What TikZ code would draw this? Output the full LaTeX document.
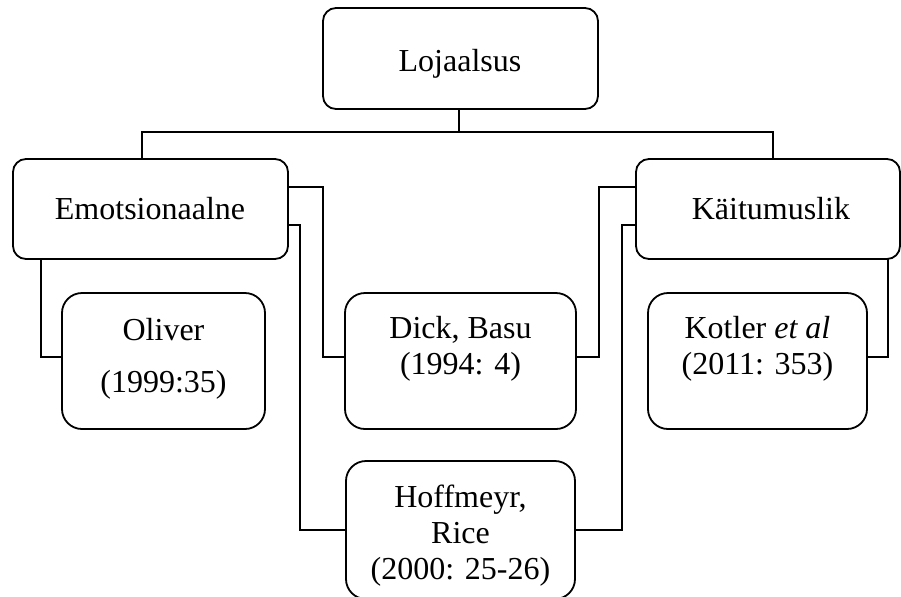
\documentclass[tikz,border=0pt]{standalone}
\usepackage{fontspec}
\setmainfont{Liberation Serif}
\begin{document}
\begin{tikzpicture}[x=0.5pt,y=-0.5pt,
  box/.style={draw,line width=0.9pt,inner sep=0pt,outer sep=0pt},
  topbox/.style={box,rounded corners=6.5pt},
  refbox/.style={box,rounded corners=10pt},
  txt/.style={anchor=base,inner sep=0pt,font=\fontsize{16}{18}\selectfont},
  link/.style={line width=0.9pt}]
\useasboundingbox (0,0) rectangle (901,596);
\begin{scope}
\clip (0,0) rectangle (901,596);
% boxes
\node[topbox,minimum width=137.5pt,minimum height=50.5pt] (loj) at (460.5,58.5) {};
\node[topbox,minimum width=137.5pt,minimum height=50pt] (emo) at (150.5,209) {};
\node[topbox,minimum width=132pt,minimum height=50pt] (kai) at (768,209) {};
\node[refbox,minimum width=101.5pt,minimum height=68pt] (oli) at (163.5,361) {};
\node[refbox,minimum width=115.5pt,minimum height=68pt] (dick) at (460.5,361) {};
\node[refbox,minimum width=109.5pt,minimum height=68pt] (kot) at (757.5,361) {};
\node[refbox,minimum width=114.5pt,minimum height=69pt] (hoff) at (460.5,530) {};
\end{scope}
% texts
\node[txt] (lojt) at (460,71) {Lojaalsus};
\node[txt] (emot) at (150,219) {Emotsionaalne};
\node[txt] (kait) at (771,219) {Käitumuslik};
\node[txt] (olit1) at (163.5,340) {Oliver};
\node[txt] (olit2) at (163.5,392) {(1999:35)};
\node[txt] (dickt1) at (460.5,338) {Dick, Basu};
\node[txt] (dickt2) at (460.5,374) {(1994: 4)};
\node[txt] (kott1) at (757.5,338) {Kotler \textit{et al}};
\node[txt] (kott2) at (757.5,374) {(2011: 353)};
\node[txt] (hofft1) at (460.5,507) {Hoffmeyr,};
\node[txt] (hofft2) at (460.5,543) {Rice};
\node[txt] (hofft3) at (460.5,579) {(2000: 25-26)};
% elbow coordinates
\coordinate (busL) at (142,132);
\coordinate (busR) at (773,132);
\coordinate (busM) at (459,132);
\coordinate (e1) at (323,187);
\coordinate (e1b) at (323,357);
\coordinate (e2) at (300,225);
\coordinate (e3) at (41,357);
\coordinate (k1) at (599,187);
\coordinate (k2) at (622,225);
\coordinate (k3) at (888,357);
% connectors
\draw[link] (loj.south -| busM) -- (busM);
\draw[link] (emo.north -| busL) -- (busL) -- (busR) -- (kai.north -| busR);
\draw[link] (emo.east |- e1) -- (e1) -- (e1b) -- (dick.west |- e1b);
\draw[link] (emo.east |- e2) -- (e2) |- (hoff.west);
\draw[link] (emo.south -| e3) -- (e3) -- (oli.west |- e3);
\draw[link] (kai.west |- k1) -- (k1) -- (k1 |- e1b) -- (dick.east |- e1b);
\draw[link] (kai.west |- k2) -- (k2) |- (hoff.east);
\draw[link] (kai.south -| k3) -- (k3) -- (kot.east |- k3);
\end{tikzpicture}
\end{document}
